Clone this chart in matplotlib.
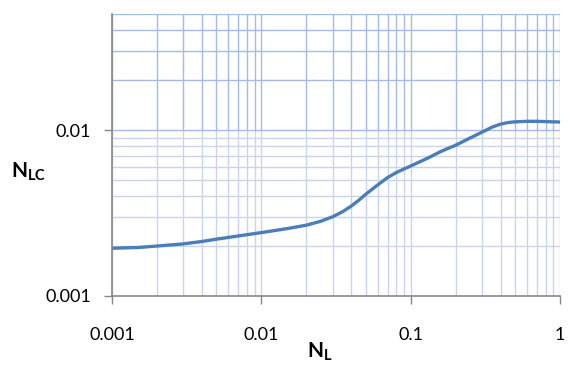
import numpy as np
import matplotlib.pyplot as plt

plt.rcParams['font.family'] = ['Lato', 'DejaVu Sans']
plt.rcParams['mathtext.fontset'] = 'custom'
plt.rcParams['mathtext.bf'] = 'Lato:bold'
plt.rcParams['mathtext.rm'] = 'Lato'

# values
n_l = [0.001, 0.0015, 0.002, 0.003, 0.004, 0.005, 0.007, 0.01, 0.015, 0.02,
       0.025, 0.03, 0.035, 0.04, 0.045, 0.05, 0.06, 0.07, 0.08, 0.09, 0.1,
       0.13, 0.16, 0.2, 0.25, 0.3, 0.35, 0.4, 0.45, 0.5, 0.6, 0.7, 0.85, 1.0]
n_lc = [0.00194, 0.00196, 0.0020, 0.00206, 0.00213, 0.00220, 0.00230, 0.00241,
        0.00255, 0.00267, 0.00282, 0.0030, 0.00322, 0.00348, 0.00378, 0.0041,
        0.00466, 0.00517, 0.00554, 0.00582, 0.00607, 0.00677, 0.00744, 0.0081,
        0.00895, 0.0097, 0.0104, 0.01085, 0.0111, 0.0112, 0.01128, 0.01128,
        0.01122, 0.01117]

xticks = [0.001, 0.01, 0.1, 1]
xticklabels = ['0.001', '0.01', '0.1', '1']
yticks = [0.001, 0.01]
yticklabels = ['0.001', '0.01']

fig = plt.figure(figsize=(5.74, 3.74), dpi=100)
ax = fig.add_axes([112/574, 78/374, 448/574, 282/374])
ax.set_xscale('log')
ax.set_yscale('log')
ax.set_xlim(0.001, 1)
ax.set_ylim(0.001, 0.05)

# grid: lighter below 0.01, stronger above (as in the original)
light = '#c9d5ec'
dark = '#a3bbe6'
gx = [m * 10.0**e for e in (-3, -2, -1) for m in range(1, 10)] + [1.0]
gy_low = [m * 0.001 for m in range(2, 10)]
gy_high = [m * 0.01 for m in range(1, 6)]
ax.vlines(gx, 0.001, 0.01, color=light, lw=1, zorder=0)
ax.vlines(gx, 0.01, 0.05, color=dark, lw=1, zorder=0)
ax.hlines(gy_low, 0.001, 1, color=light, lw=1, zorder=0)
ax.hlines(gy_high, 0.001, 1, color=dark, lw=1, zorder=0)

ax.plot(n_l, n_lc, color='#4a7ebb', lw=2.4, solid_capstyle='round',
        solid_joinstyle='round', zorder=3)

for s in ['top', 'right']:
    ax.spines[s].set_visible(False)
for s in ['left', 'bottom']:
    ax.spines[s].set_color('#868686')
    ax.spines[s].set_linewidth(1.2)
    ax.spines[s].set_zorder(4)

ax.set_xticks(xticks)
ax.set_xticklabels(xticklabels)
ax.set_yticks(yticks)
ax.set_yticklabels(yticklabels)
ax.minorticks_off()
ax.tick_params(axis='both', length=6, width=1, color='#868686', labelsize=13)
ax.tick_params(axis='x', pad=16)
ax.tick_params(axis='y', pad=9)

fig.text(11/574, 1 - 172/374, r'$\mathbf{N_{LC}}$', fontsize=15, va='center', ha='left')
fig.text(307/574, 1 - 352/374, r'$\mathbf{N_{L}}$', fontsize=15, va='center', ha='left')

fig.savefig('out.png', dpi=100)
